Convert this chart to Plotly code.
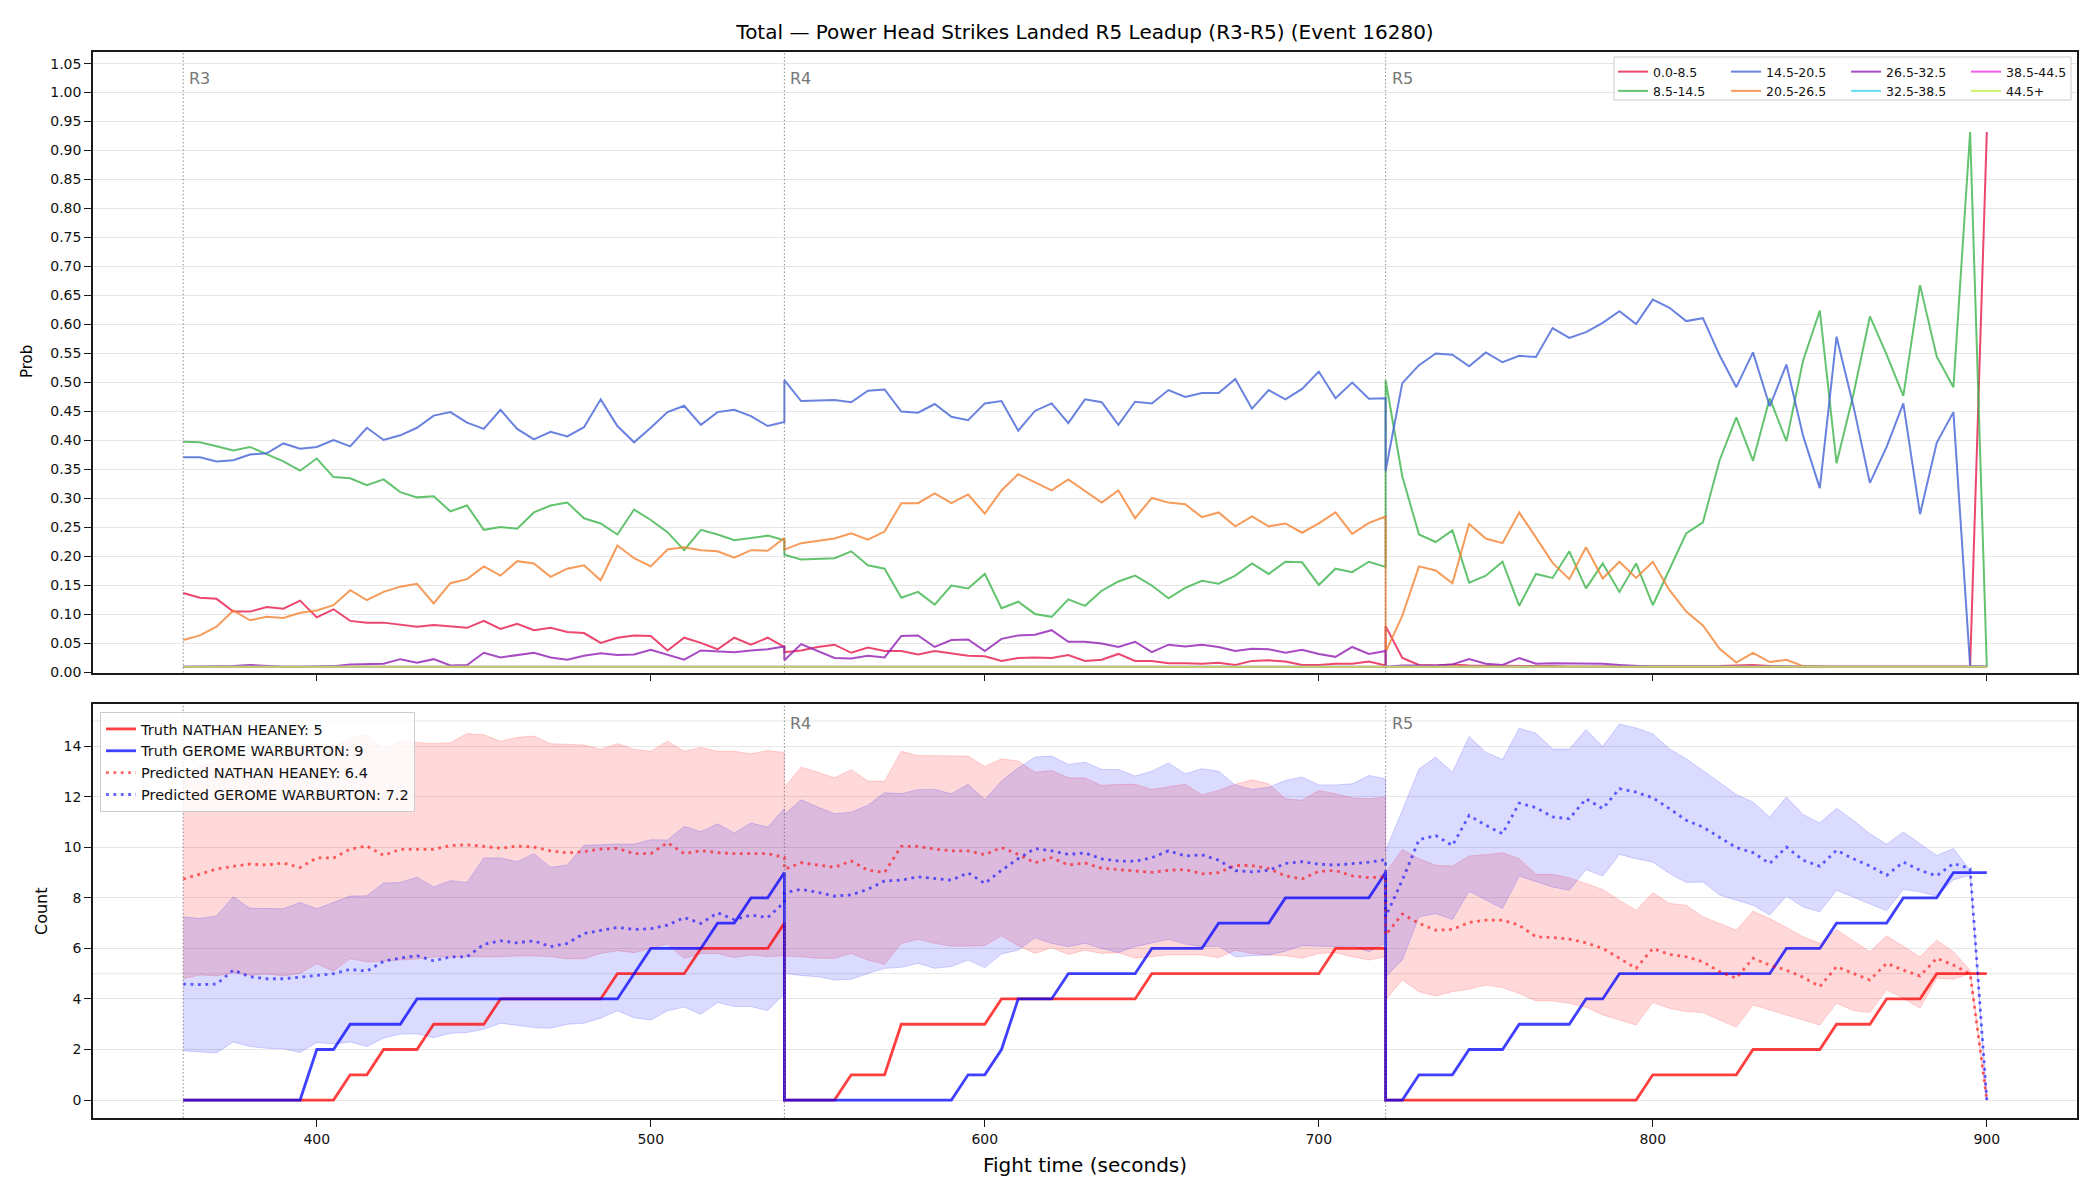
import plotly.graph_objects as go

# ---------------- data ----------------
t_r3 = list(range(360, 541, 5))
t_r4 = list(range(540, 721, 5))
t_r5 = list(range(720, 901, 5))
times = t_r3 + t_r4 + t_r5
round_starts = [360, 540, 720]
round_labels = ["R3", "R4", "R5"]
x_ticks = [400, 500, 600, 700, 800, 900]

bins = ["0.0-8.5", "8.5-14.5", "14.5-20.5", "20.5-26.5",
        "26.5-32.5", "32.5-38.5", "38.5-44.5", "44.5+"]

# probability per bin (R3, R4, R5 segments)
p_bin0_r3 = [0.137,0.129,0.127,0.105,0.105,0.113,0.110,0.124,0.095,0.109,0.089,0.086,0.086,0.083,0.079,0.082,0.079,0.077,0.089,0.075,0.084,0.073,0.077,0.070,0.068,0.051,0.060,0.064,0.063,0.038,0.060,0.051,0.040,0.060,0.048,0.060,0.044]
p_bin0_r4 = [0.035,0.038,0.044,0.048,0.034,0.043,0.037,0.037,0.031,0.037,0.033,0.029,0.028,0.020,0.025,0.026,0.025,0.030,0.020,0.022,0.032,0.020,0.020,0.016,0.016,0.015,0.017,0.013,0.020,0.021,0.019,0.013,0.013,0.015,0.015,0.019,0.012]
p_bin0_r5 = [0.080,0.025,0.013,0.012,0.014,0.012,0.012,0.011,0.011,0.011,0.011,0.010,0.010,0.010,0.010,0.010,0.010,0.010,0.010,0.010,0.011,0.012,0.013,0.011,0.010,0.010,0.010,0.010,0.010,0.010,0.010,0.010,0.010,0.010,0.010,0.010,0.932]

p_bin1_r3 = [0.398,0.397,0.390,0.383,0.389,0.376,0.364,0.348,0.369,0.337,0.335,0.323,0.333,0.311,0.302,0.304,0.278,0.288,0.246,0.251,0.248,0.276,0.288,0.293,0.266,0.257,0.238,0.281,0.263,0.242,0.211,0.246,0.238,0.228,0.232,0.236,0.228]
p_bin1_r4 = [0.203,0.195,0.196,0.197,0.209,0.185,0.179,0.129,0.139,0.117,0.150,0.145,0.170,0.111,0.122,0.101,0.096,0.126,0.115,0.141,0.157,0.167,0.150,0.128,0.146,0.158,0.153,0.167,0.188,0.170,0.191,0.190,0.151,0.179,0.173,0.191,0.182]
p_bin1_r5 = [0.504,0.338,0.238,0.225,0.245,0.155,0.167,0.191,0.115,0.170,0.163,0.209,0.145,0.188,0.139,0.188,0.116,0.178,0.240,0.259,0.366,0.440,0.365,0.473,0.399,0.538,0.624,0.361,0.478,0.614,0.548,0.477,0.668,0.545,0.492,0.932,0.010]

p_bin2_r3 = [0.371,0.371,0.364,0.366,0.376,0.378,0.395,0.386,0.389,0.401,0.390,0.422,0.401,0.409,0.422,0.443,0.449,0.431,0.420,0.453,0.420,0.402,0.415,0.407,0.423,0.471,0.425,0.397,0.422,0.449,0.460,0.427,0.449,0.453,0.442,0.425,0.432]
p_bin2_r4 = [0.504,0.468,0.469,0.470,0.466,0.486,0.488,0.450,0.448,0.463,0.441,0.435,0.464,0.468,0.417,0.451,0.464,0.430,0.471,0.466,0.427,0.467,0.464,0.487,0.475,0.482,0.482,0.506,0.455,0.487,0.471,0.489,0.519,0.473,0.500,0.472,0.473]
p_bin2_r5 = [0.348,0.499,0.530,0.550,0.548,0.528,0.552,0.535,0.546,0.544,0.594,0.577,0.587,0.603,0.623,0.601,0.643,0.629,0.606,0.611,0.547,0.492,0.552,0.459,0.531,0.408,0.318,0.579,0.461,0.327,0.389,0.464,0.273,0.396,0.449,0.011,0.010]

p_bin3_r3 = [0.056,0.064,0.079,0.107,0.090,0.096,0.094,0.103,0.107,0.116,0.142,0.125,0.139,0.148,0.153,0.119,0.154,0.161,0.183,0.167,0.192,0.188,0.165,0.179,0.185,0.159,0.219,0.197,0.183,0.212,0.216,0.211,0.209,0.198,0.211,0.210,0.232]
p_bin3_r4 = [0.212,0.223,0.227,0.231,0.240,0.229,0.243,0.292,0.292,0.309,0.292,0.307,0.274,0.314,0.342,0.328,0.314,0.333,0.313,0.293,0.314,0.266,0.301,0.293,0.290,0.268,0.276,0.252,0.269,0.252,0.257,0.241,0.257,0.276,0.239,0.258,0.269]
p_bin3_r5 = [0.035,0.098,0.183,0.176,0.154,0.256,0.231,0.223,0.276,0.233,0.189,0.161,0.216,0.162,0.191,0.163,0.191,0.142,0.105,0.081,0.041,0.017,0.034,0.018,0.022,0.011,0.010,0.010,0.010,0.010,0.010,0.010,0.010,0.010,0.010,0.010,0.010]

p_bin4_r3 = [0.010,0.010,0.011,0.011,0.013,0.011,0.010,0.010,0.011,0.011,0.014,0.015,0.015,0.023,0.017,0.023,0.012,0.013,0.034,0.026,0.030,0.034,0.026,0.022,0.029,0.033,0.030,0.031,0.039,0.030,0.022,0.038,0.037,0.035,0.038,0.040,0.045]
p_bin4_r4 = [0.021,0.049,0.037,0.025,0.024,0.029,0.026,0.063,0.064,0.044,0.056,0.057,0.037,0.058,0.064,0.065,0.073,0.053,0.053,0.050,0.044,0.053,0.035,0.048,0.045,0.048,0.044,0.037,0.041,0.040,0.034,0.039,0.032,0.027,0.044,0.032,0.037]
p_bin4_r5 = [0.010,0.012,0.012,0.012,0.014,0.023,0.015,0.013,0.025,0.015,0.016,0.016,0.016,0.015,0.013,0.011,0.010,0.010,0.010,0.010,0.010,0.010,0.010,0.010,0.010,0.010,0.010,0.010,0.010,0.010,0.010,0.010,0.010,0.010,0.010,0.010,0.010]

p_flat_round = [0.010,0.010,0.010,0.010,0.010,0.010,0.010,0.010,0.010,0.010,0.010,0.010,0.010,0.010,0.010,0.010,0.010,0.010,0.010,0.010,0.010,0.010,0.010,0.010,0.010,0.010,0.010,0.010,0.010,0.010,0.010,0.010,0.010,0.010,0.010,0.010,0.010]
p_bin5 = p_flat_round + p_flat_round + p_flat_round
p_bin6 = p_flat_round + p_flat_round + p_flat_round
p_bin7 = p_flat_round + p_flat_round + p_flat_round

prob_series = [
    p_bin0_r3 + p_bin0_r4 + p_bin0_r5,
    p_bin1_r3 + p_bin1_r4 + p_bin1_r5,
    p_bin2_r3 + p_bin2_r4 + p_bin2_r5,
    p_bin3_r3 + p_bin3_r4 + p_bin3_r5,
    p_bin4_r3 + p_bin4_r4 + p_bin4_r5,
    p_bin5, p_bin6, p_bin7,
]

# counts: truth
truth_heaney = ([0,0,0,0,0,0,0,0,0,0,1,1,2,2,2,3,3,3,3,4,4,4,4,4,4,4,5,5,5,5,5,6,6,6,6,6,7]
                + [0,0,0,0,1,1,1,3,3,3,3,3,3,4,4,4,4,4,4,4,4,4,5,5,5,5,5,5,5,5,5,5,5,6,6,6,6]
                + [0,0,0,0,0,0,0,0,0,0,0,0,0,0,0,0,1,1,1,1,1,1,2,2,2,2,2,3,3,3,4,4,4,5,5,5,5])
truth_warburton = ([0,0,0,0,0,0,0,0,2,2,3,3,3,3,4,4,4,4,4,4,4,4,4,4,4,4,4,5,6,6,6,6,7,7,8,8,9]
                   + [0,0,0,0,0,0,0,0,0,0,0,1,1,2,4,4,4,5,5,5,5,5,6,6,6,6,7,7,7,7,8,8,8,8,8,8,9]
                   + [0,0,1,1,1,2,2,2,3,3,3,3,4,4,5,5,5,5,5,5,5,5,5,5,6,6,6,7,7,7,7,8,8,8,9,9,9])

# predicted mean
pred_heaney = ([8.74,8.93,9.14,9.25,9.34,9.30,9.38,9.20,9.58,9.58,9.93,10.05,9.68,9.92,9.91,9.92,10.07,10.10,10.04,9.96,10.05,10.01,9.86,9.78,9.83,9.93,9.96,9.75,9.75,10.18,9.75,9.87,9.79,9.75,9.75,9.75,9.60]
               + [9.13,9.39,9.29,9.21,9.46,9.09,9.01,10.04,10.04,9.93,9.86,9.86,9.71,9.99,9.72,9.39,9.59,9.30,9.38,9.17,9.12,9.07,9.01,9.09,9.12,8.95,9.00,9.28,9.28,9.16,8.87,8.75,9.05,9.08,8.87,8.80,8.83]
               + [6.53,7.36,6.99,6.72,6.75,7.03,7.12,7.12,6.92,6.46,6.43,6.37,6.22,6.00,5.61,5.21,6.00,5.76,5.67,5.47,5.08,4.82,5.61,5.34,5.14,4.86,4.49,5.28,5.01,4.75,5.41,5.14,4.91,5.61,5.34,4.99,0.0])
pred_warburton = ([4.59,4.57,4.59,5.14,4.88,4.80,4.80,4.86,4.92,5.00,5.17,5.10,5.49,5.62,5.71,5.51,5.66,5.67,6.16,6.30,6.22,6.30,6.07,6.20,6.59,6.70,6.83,6.75,6.78,6.92,7.22,6.99,7.41,7.14,7.32,7.22,7.83]
                  + [8.20,8.34,8.22,8.07,8.12,8.34,8.67,8.70,8.83,8.76,8.70,8.99,8.57,9.09,9.55,9.95,9.86,9.72,9.78,9.54,9.46,9.45,9.59,9.86,9.66,9.70,9.49,9.08,9.03,9.09,9.36,9.43,9.33,9.30,9.36,9.41,9.51]
                  + [7.25,8.70,10.30,10.47,10.07,11.26,10.87,10.54,11.75,11.57,11.20,11.13,11.92,11.53,12.32,12.18,11.96,11.53,11.07,10.80,10.41,9.99,9.79,9.36,10.01,9.49,9.25,9.88,9.55,9.26,8.89,9.42,9.09,8.87,9.36,9.16,0.0])

# predicted bands
heaney_hi = ([12.9,13.2,13.4,13.6,13.7,13.8,13.9,14.0,14.1,14.0,14.3,14.45,13.9,14.2,14.16,14.1,14.14,14.5,14.45,14.2,14.35,14.4,14.1,14.07,14.05,13.88,14.1,13.88,13.8,14.2,13.8,13.95,13.8,13.8,13.7,13.83,13.75]
             + [12.38,13.17,12.97,12.75,13.07,12.62,12.62,13.8,13.63,13.63,13.61,13.61,13.2,13.5,13.41,12.97,13.04,12.75,12.74,12.45,12.49,12.49,12.29,12.38,12.49,12.08,12.25,12.49,12.67,12.51,11.92,11.86,12.25,12.12,11.96,11.92,11.99]
             + [9.0,9.91,9.55,9.29,9.25,9.66,9.71,9.78,9.55,8.93,8.93,8.79,8.57,8.33,7.91,7.51,8.2,7.78,7.71,7.25,6.99,6.72,7.47,7.18,6.83,6.46,6.2,6.75,6.3,5.87,6.5,6.07,5.67,6.33,5.87,5.14,0.0])
heaney_lo = ([4.80,4.95,4.91,5.04,4.93,4.99,4.91,5.01,5.39,5.10,5.60,5.46,5.50,5.55,5.58,5.66,5.66,5.67,5.67,5.67,5.70,5.71,5.67,5.59,5.59,5.80,5.91,5.83,6.00,6.17,5.60,5.80,5.80,5.64,5.74,5.67,5.72]
             + [5.70,5.67,5.61,5.61,5.80,5.54,5.37,6.20,6.36,6.20,6.09,6.09,6.11,6.50,6.11,5.80,6.03,5.76,5.93,5.80,5.83,5.61,5.67,5.74,5.74,5.74,5.63,5.93,5.80,5.74,5.71,5.61,5.80,5.83,5.67,5.54,5.67]
             + [3.96,4.75,4.29,4.12,4.29,4.38,4.55,4.45,4.22,3.92,3.92,3.83,3.67,3.37,3.17,2.97,3.86,3.63,3.50,3.46,3.17,2.88,3.76,3.57,3.37,3.17,2.97,3.83,3.54,3.46,4.36,4.03,3.63,4.82,4.78,5.01,0.0])
warburton_hi = ([7.25,7.18,7.29,8.04,7.59,7.57,7.57,7.82,7.57,7.82,8.07,8.08,8.59,8.61,8.82,8.43,8.68,8.61,9.58,9.58,9.43,9.75,9.21,9.30,10.08,10.10,10.13,10.13,10.30,10.29,10.83,10.62,10.93,10.57,10.96,10.80,11.53]
                + [11.3,11.88,11.59,11.33,11.39,11.66,12.16,12.12,12.28,12.29,12.12,12.49,11.88,12.62,13.14,13.57,13.61,13.28,13.37,13.08,13.08,12.82,13.01,13.34,12.91,13.11,13.01,12.47,12.29,12.38,12.64,12.78,12.47,12.47,12.51,12.84,12.71]
                + [9.88,11.46,13.1,13.57,12.97,14.38,13.76,13.47,14.71,14.51,13.89,13.89,14.66,13.99,14.88,14.72,14.49,13.89,13.5,13.04,12.58,12.09,11.79,11.2,11.99,11.3,10.96,11.55,11.07,10.54,10.12,10.61,10.14,9.68,9.95,9.09,0.0])
warburton_lo = ([1.95,1.92,1.86,2.30,2.12,2.05,2.03,1.88,2.28,2.22,2.30,2.12,2.45,2.61,2.62,2.47,2.64,2.67,2.80,3.04,2.95,2.87,2.84,3.00,3.04,3.24,3.53,3.26,3.17,3.53,3.68,3.39,3.86,3.70,3.70,3.54,4.20]
                + [5.01,4.93,4.88,4.75,4.78,5.01,5.21,5.25,5.41,5.21,5.28,5.54,5.24,5.78,5.93,6.42,6.20,6.07,6.20,6.00,5.84,6.07,6.20,6.36,6.17,6.07,6.09,5.67,5.71,5.74,5.89,6.11,6.09,6.07,6.09,5.87,6.20]
                + [4.88,5.54,7.25,7.38,7.14,8.26,7.91,7.58,8.86,8.63,8.43,8.30,9.12,8.86,9.72,9.55,9.42,8.96,8.61,8.63,8.11,7.91,7.71,7.32,8.07,7.64,7.45,8.30,8.04,7.78,7.49,8.33,8.24,8.07,8.72,8.89,0.0])

truth_final = {"NATHAN HEANEY": 5, "GEROME WARBURTON": 9}
pred_final = {"NATHAN HEANEY": 6.4, "GEROME WARBURTON": 7.2}
count_extra_lines = [5, 15]

# ---------------- styling ----------------
FONT = "DejaVu Sans"
W, H = 2100, 1200
ML, MR, MT, MB = 93, 23, 52, 82
PW, PH = W - ML - MR, H - MT - MB


def px_x(px):
    return (px - ML) / PW


def px_y(py):
    return (H - MB - py) / PH


bin_colors = ["rgba(230,25,75,0.8)", "rgba(60,180,75,0.8)", "rgba(67,99,216,0.8)",
              "rgba(245,130,49,0.8)", "rgba(145,30,180,0.8)", "rgba(66,212,244,0.8)",
              "rgba(240,50,230,0.8)", "rgba(191,239,69,0.8)"]
legend_ids = ["legend", "legend", "legend2", "legend2", "legend3", "legend3", "legend4", "legend4"]

fig = go.Figure()

for name, ys, col, lg in zip(bins, prob_series, bin_colors, legend_ids):
    fig.add_trace(go.Scatter(x=times, y=ys, mode="lines", name=name,
                             line=dict(color=col, width=2), legend=lg,
                             xaxis="x", yaxis="y"))

# bands
RED_BAND = "rgba(255,0,0,0.15)"
BLUE_BAND = "rgba(0,0,255,0.14)"
for lo, hi, fillc, edge in [(heaney_lo, heaney_hi, RED_BAND, "rgba(255,0,0,0.16)"),
                            (warburton_lo, warburton_hi, BLUE_BAND, "rgba(0,0,255,0.16)")]:
    fig.add_trace(go.Scatter(x=times, y=lo, mode="lines", line=dict(color=edge, width=1),
                             showlegend=False, xaxis="x2", yaxis="y2", hoverinfo="skip"))
    fig.add_trace(go.Scatter(x=times, y=hi, mode="lines", line=dict(color=edge, width=1),
                             fill="tonexty", fillcolor=fillc,
                             showlegend=False, xaxis="x2", yaxis="y2", hoverinfo="skip"))

DOT = "2.8px,4.6px"
fig.add_trace(go.Scatter(x=times, y=truth_heaney, mode="lines",
                         name=f"Truth NATHAN HEANEY: {truth_final['NATHAN HEANEY']}",
                         line=dict(color="rgba(255,0,0,0.75)", width=2.8),
                         legend="legend5", xaxis="x2", yaxis="y2"))
fig.add_trace(go.Scatter(x=times, y=truth_warburton, mode="lines",
                         name=f"Truth GEROME WARBURTON: {truth_final['GEROME WARBURTON']}",
                         line=dict(color="rgba(0,0,255,0.75)", width=2.8),
                         legend="legend5", xaxis="x2", yaxis="y2"))
fig.add_trace(go.Scatter(x=times, y=pred_heaney, mode="lines",
                         name=f"Predicted NATHAN HEANEY: {pred_final['NATHAN HEANEY']}",
                         line=dict(color="rgba(255,0,0,0.6)", width=2.8, dash=DOT),
                         legend="legend5", xaxis="x2", yaxis="y2"))
fig.add_trace(go.Scatter(x=times, y=pred_warburton, mode="lines",
                         name=f"Predicted GEROME WARBURTON: {pred_final['GEROME WARBURTON']}",
                         line=dict(color="rgba(0,0,255,0.6)", width=2.8, dash=DOT),
                         legend="legend5", xaxis="x2", yaxis="y2"))

SPINE = "#1a1a1a"
GRID = "#e6e6e6"
axis_common = dict(showline=True, mirror=True, linecolor=SPINE, linewidth=1.6,
                   ticks="outside", ticklen=7, tickwidth=1.3, tickcolor=SPINE,
                   zeroline=False, tickfont=dict(family=FONT, size=14, color="#111"))

top_dom = [px_y(672.5), 1.0]
bot_dom = [0.0, px_y(704)]

fig.update_layout(
    width=W, height=H,
    margin=dict(l=ML, r=MR, t=MT, b=MB),
    paper_bgcolor="white", plot_bgcolor="white",
    font=dict(family=FONT, color="#111"),
    title=dict(text="Total — Power Head Strikes Landed R5 Leadup (R3-R5) (Event 16280)",
               x=0.5, xref="paper", xanchor="center",
               y=1 - 31.7 / H, yref="container", yanchor="middle",
               font=dict(family=FONT, size=20, color="#000")),
    xaxis=dict(domain=[0, 1], anchor="y", range=[333, 927], tickvals=x_ticks,
               showticklabels=False, showgrid=False, **axis_common),
    yaxis=dict(domain=top_dom, anchor="x", range=[0, 1.07],
               tickvals=[round(i * 0.05, 2) for i in range(22)], tickformat=".2f",
               showgrid=True, gridcolor=GRID, gridwidth=1, **axis_common),
    xaxis2=dict(domain=[0, 1], anchor="y2", range=[333, 927], tickvals=x_ticks,
                showgrid=False, **axis_common),
    yaxis2=dict(domain=bot_dom, anchor="x2", range=[-0.71, 15.67],
                tickvals=[0, 2, 4, 6, 8, 10, 12, 14],
                showgrid=True, gridcolor=GRID, gridwidth=1, **axis_common),
    showlegend=True,
)

leg_common = dict(orientation="v", xanchor="left", yanchor="top", traceorder="normal",
                  bgcolor="rgba(0,0,0,0)", borderwidth=0, tracegroupgap=0,
                  font=dict(family=FONT, size=12.5, color="#111"), itemwidth=30)
leg_y = px_y(57)
fig.update_layout(
    legend=dict(x=px_x(1613), y=leg_y, **leg_common),
    legend2=dict(x=px_x(1726), y=leg_y, **leg_common),
    legend3=dict(x=px_x(1846), y=leg_y, **leg_common),
    legend4=dict(x=px_x(1966), y=leg_y, **leg_common),
    legend5=dict(x=px_x(100), y=px_y(712), xanchor="left", yanchor="top", traceorder="normal",
                 bgcolor="rgba(255,255,255,0.8)", bordercolor="#cccccc", borderwidth=1,
                 tracegroupgap=0, font=dict(family=FONT, size=14.5, color="#111"), itemwidth=30),
)

shapes = []
# frame behind top legend
shapes.append(dict(type="rect", xref="paper", yref="paper",
                   x0=px_x(1614), x1=px_x(2071), y0=px_y(100), y1=px_y(57),
                   fillcolor="rgba(255,255,255,0.85)", line=dict(color="#cccccc", width=1),
                   layer="above"))
# extra horizontal lines in count panel
for v in count_extra_lines:
    shapes.append(dict(type="line", xref="x2 domain", yref="y2", x0=0, x1=1, y0=v, y1=v,
                       line=dict(color=GRID, width=1), layer="below"))
# round boundary lines
for rs in round_starts:
    for xr, yr in [("x", "y domain"), ("x2", "y2 domain")]:
        shapes.append(dict(type="line", xref=xr, yref=yr, x0=rs, x1=rs, y0=0, y1=1,
                           line=dict(color="rgba(110,110,110,0.8)", width=1, dash="1.5px,2.2px"),
                           layer="above"))
fig.update_layout(shapes=shapes)

annotations = []
for rs, lab in zip(round_starts, round_labels):
    annotations.append(dict(x=rs, y=0.958, xref="x", yref="y domain", text=lab,
                            showarrow=False, xanchor="left", yanchor="middle", xshift=4,
                            font=dict(family=FONT, size=16, color="#777777")))
    if lab != "R3":
        annotations.append(dict(x=rs, y=0.954, xref="x2", yref="y2 domain", text=lab,
                                showarrow=False, xanchor="left", yanchor="middle", xshift=4,
                                font=dict(family=FONT, size=16, color="#777777")))
annotations.append(dict(x=0.5, y=px_y(1165), xref="paper", yref="paper",
                        text="Fight time (seconds)", showarrow=False,
                        xanchor="center", yanchor="middle",
                        font=dict(family=FONT, size=20, color="#000")))
annotations.append(dict(x=px_x(27), y=px_y(362), xref="paper", yref="paper",
                        text="Prob", showarrow=False, textangle=-90,
                        xanchor="center", yanchor="middle",
                        font=dict(family=FONT, size=15, color="#000")))
annotations.append(dict(x=px_x(41), y=px_y(911), xref="paper", yref="paper",
                        text="Count", showarrow=False, textangle=-90,
                        xanchor="center", yanchor="middle",
                        font=dict(family=FONT, size=16, color="#000")))
fig.update_layout(annotations=annotations)

fig.write_html("out.html")
